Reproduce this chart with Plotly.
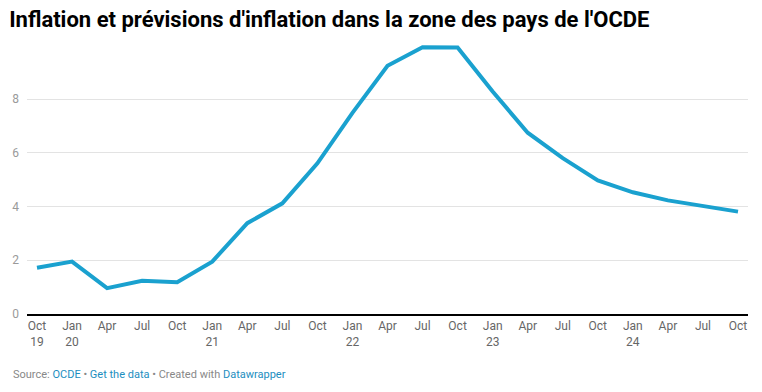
import plotly.graph_objects as go

quarters = ["Oct 19", "Jan 20", "Apr 20", "Jul 20", "Oct 20", "Jan 21", "Apr 21", "Jul 21",
            "Oct 21", "Jan 22", "Apr 22", "Jul 22", "Oct 22", "Jan 23", "Apr 23", "Jul 23",
            "Oct 23", "Jan 24", "Apr 24", "Jul 24", "Oct 24"]
inflation = [1.72, 1.95, 0.96, 1.24, 1.18, 1.95, 3.38, 4.12, 5.61, 7.49, 9.24, 9.93,
             9.92, 8.28, 6.75, 5.80, 4.97, 4.53, 4.23, 4.01, 3.81]
tick_labels = ["Oct<br>19", "Jan<br>20", "Apr", "Jul", "Oct", "Jan<br>21", "Apr", "Jul",
               "Oct", "Jan<br>22", "Apr", "Jul", "Oct", "Jan<br>23", "Apr", "Jul",
               "Oct", "Jan<br>24", "Apr", "Jul", "Oct"]
y_ticks = [0, 2, 4, 6, 8]

xs = list(range(len(quarters)))

fig = go.Figure()
fig.add_trace(go.Scatter(
    x=xs, y=inflation, mode="lines",
    line=dict(color="#1aa1cf", width=4),
    text=quarters, hoverinfo="text+y",
))

fig.update_layout(
    width=762, height=392,
    margin=dict(l=25, r=14, t=40, b=78),
    paper_bgcolor="white", plot_bgcolor="white",
    showlegend=False,
    font=dict(family="Roboto, sans-serif", size=12, color="#666"),
    title=dict(
        text="<b>Inflation et prévisions d'inflation dans la zone des pays de l'OCDE</b>",
        font=dict(family="Roboto, sans-serif", size=22, color="#000"),
        x=0.012, xref="container", xanchor="left", y=0.9515, yref="container", yanchor="middle",
    ),
    xaxis=dict(
        range=[-0.285, 20.285], tickmode="array", tickvals=xs, ticktext=tick_labels,
        showgrid=False, zeroline=False, showline=True, linecolor="#000", linewidth=1.5,
        ticks="", tickfont=dict(size=12, color="#666"), fixedrange=True,
    ),
    yaxis=dict(
        range=[0, 10.2], tickmode="array", tickvals=y_ticks,
        showgrid=True, gridcolor="#e3e3e3", gridwidth=1, zeroline=False,
        ticks="", tickfont=dict(size=12, color="#9a9a9a"), ticklabelstandoff=7,
        fixedrange=True,
    ),
)

fig.add_annotation(
    xref="paper", yref="paper", x=-0.022, y=-0.19, xanchor="left", yanchor="top",
    showarrow=False, align="left",
    text=("Source: <span style='color:#1d8ec0'>OCDE</span> • "
          "<span style='color:#1d8ec0'>Get the data</span> • Created with "
          "<span style='color:#1d8ec0'>Datawrapper</span>"),
    font=dict(family="Roboto, sans-serif", size=11, color="#888"),
)

fig.write_html("out.html", config={"displayModeBar": False},
               post_script="document.body.style.margin='0';")
